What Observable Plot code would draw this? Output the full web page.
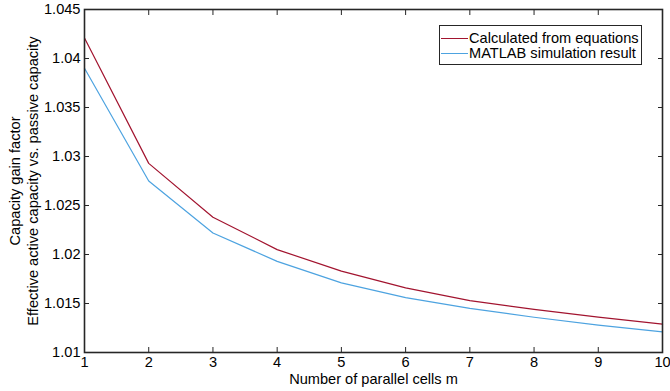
<!DOCTYPE html>
<html>
<head>
<meta charset="utf-8">
<script src="https://cdn.jsdelivr.net/npm/d3@7"></script>
<script src="https://cdn.jsdelivr.net/npm/@observablehq/plot@0.6"></script>
<style>
  html, body { margin: 0; padding: 0; background: #fff; }
  #wrap { position: relative; width: 670px; height: 391px; font-family: "Liberation Sans", Arial, sans-serif; }
  #legend { position: absolute; left: 439px; top: 25px; width: 201px; height: 38px; border: 1px solid #262626; background: #fff; font-size: 14.6px; color: #000; }
  .row { position: absolute; left: 1px; height: 16px; line-height: 16px; white-space: nowrap; }
  .sw { display: inline-block; width: 27px; height: 0; vertical-align: middle; margin-right: 1px; position: relative; top: -1px; }
</style>
</head>
<body>
<div id="wrap"></div>
<script>
const cells = [1, 2, 3, 4, 5, 6, 7, 8, 9, 10];
const calculated = [1.0421, 1.0293, 1.0238, 1.0205, 1.0183, 1.0166, 1.0153, 1.0144, 1.0136, 1.0129];
const simulated  = [1.0390, 1.0275, 1.0222, 1.0193, 1.0171, 1.0156, 1.0145, 1.0136, 1.0128, 1.0121];
const xTicks = [1, 2, 3, 4, 5, 6, 7, 8, 9, 10];
const yTicks = [1.01, 1.015, 1.02, 1.025, 1.03, 1.035, 1.04, 1.045];
const seriesNames = ["Calculated from equations", "MATLAB simulation result"];
const seriesColors = ["#a2142f", "#4da3e0"];
const yLabel = "Capacity gain factor\nEffective active capacity vs. passive capacity";
const xLabel = "Number of parallel cells m";

const data = [];
cells.forEach((m, i) => {
  data.push({m, v: calculated[i], s: seriesNames[0]});
  data.push({m, v: simulated[i], s: seriesNames[1]});
});

const fmt = d => String(+d.toFixed(3));
const FS = 14.6;

const chart = Plot.plot({
  width: 670,
  height: 391,
  marginLeft: 84,
  marginRight: 8,
  marginTop: 9,
  marginBottom: 39,
  style: { fontFamily: "Liberation Sans, Arial, sans-serif", fontSize: FS + "px", color: "#000", background: "#fff" },
  x: { domain: [1, 10] },
  y: { domain: [1.01, 1.045] },
  color: { domain: seriesNames, range: seriesColors },
  marks: [
    Plot.line(data, { x: "m", y: "v", z: "s", stroke: "s", strokeWidth: 1.2 }),
    // ticks (inward)
    Plot.axisX(xTicks, { anchor: "bottom", tickSize: -5, text: null, label: null, stroke: "#262626" }),
    Plot.axisX(xTicks, { anchor: "top", tickSize: -5, text: null, label: null, stroke: "#262626" }),
    Plot.axisY(yTicks, { anchor: "left", tickSize: -5, text: null, label: null, stroke: "#262626" }),
    Plot.axisY(yTicks, { anchor: "right", tickSize: -5, text: null, label: null, stroke: "#262626" }),
    // labels
    Plot.axisX(xTicks, { anchor: "bottom", tickSize: 0, tickPadding: 4, label: null, fill: "#000", fontSize: FS }),
    Plot.axisY(yTicks, { anchor: "left", tickSize: 0, tickPadding: 4, tickFormat: fmt, label: null, fill: "#000", fontSize: FS }),
    Plot.frame({ stroke: "#262626", strokeWidth: 1.6 }),
    Plot.text([xLabel], { text: d => d, frameAnchor: "bottom", dy: 27, lineAnchor: "middle", fill: "#000", fontSize: FS }),
    Plot.text([yLabel], { text: d => d, frameAnchor: "left", dx: -61, rotate: -90, lineAnchor: "middle", textAnchor: "middle", lineHeight: 1.18, fill: "#000", fontSize: FS })
  ]
});

const wrap = document.getElementById("wrap");
wrap.appendChild(chart);

const legend = document.createElement("div");
legend.id = "legend";
seriesNames.forEach((name, i) => {
  const row = document.createElement("div");
  row.className = "row";
  row.style.top = (i === 0 ? 4 : 19) + "px";
  const sw = document.createElement("span");
  sw.className = "sw";
  sw.style.borderTop = "1.2px solid " + seriesColors[i];
  row.appendChild(sw);
  row.appendChild(document.createTextNode(name));
  legend.appendChild(row);
});
wrap.appendChild(legend);
</script>
</body>
</html>
